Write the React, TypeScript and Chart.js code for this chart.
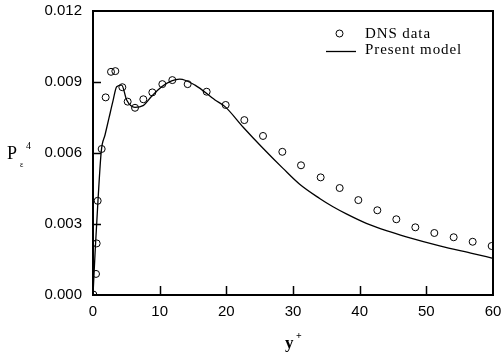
import React, { useEffect, useRef } from "react";
import { Chart, registerables } from "chart.js";
Chart.register(...registerables);

const dnsX = [0.05, 0.45, 0.55, 0.7, 1.3, 1.9, 2.7, 3.35, 4.4, 5.2, 6.3, 7.55, 8.9, 10.4, 11.9, 14.2, 17.05, 19.9, 22.7, 25.5, 28.4, 31.2, 34.15, 37.0, 39.8, 42.65, 45.5, 48.35, 51.2, 54.1, 56.95, 59.8];
const dnsY = [0.00002, 0.00089, 0.00218, 0.00398, 0.00617, 0.00835, 0.00943, 0.00946, 0.00878, 0.00817, 0.00791, 0.00827, 0.00856, 0.00891, 0.00908, 0.00891, 0.00859, 0.00803, 0.00739, 0.00672, 0.00605, 0.00548, 0.00497, 0.00452, 0.00401, 0.00358, 0.0032, 0.00286, 0.00262, 0.00244, 0.00225, 0.00207];

const modelX = [0, 0.35, 0.75, 1.25, 1.8, 2.4, 3.0, 3.55, 4.3, 5.05, 6.3, 7.5, 8.8, 10.3, 11.8, 13.0, 15.3, 18.3, 19.8, 22.5, 25.5, 28.5, 31, 34, 36, 38, 41, 44, 47, 52, 57, 60];
const modelY = [0, 0.002, 0.004, 0.0061, 0.00676, 0.00748, 0.0082, 0.0088, 0.00887, 0.00824, 0.00793, 0.008, 0.0084, 0.0088, 0.00905, 0.00912, 0.00887, 0.00824, 0.00796, 0.0071, 0.0062, 0.00535, 0.00468, 0.00408, 0.00373, 0.00343, 0.00303, 0.00272, 0.00246, 0.00208, 0.00175, 0.00155];

const xTicks = [0, 10, 20, 30, 40, 50, 60];
const yTicks = [0, 0.003, 0.006, 0.009, 0.012];
const legendLabels = ["DNS data", "Present model"];

const framePlugin = {
  id: "frame",
  afterDraw(chart: any) {
    const { ctx, chartArea } = chart;
    const { left, right, top, bottom } = chartArea;
    const xs = chart.scales.x;
    const ys = chart.scales.y;
    ctx.save();
    ctx.strokeStyle = "#000";
    ctx.lineWidth = 2;
    ctx.strokeRect(left, top, right - left, bottom - top);
    ctx.lineWidth = 1.5;
    ctx.beginPath();
    xTicks.slice(1, -1).forEach((v) => {
      const px = Math.round(xs.getPixelForValue(v)) + 0.5;
      ctx.moveTo(px, bottom);
      ctx.lineTo(px, bottom - 9);
    });
    yTicks.slice(1, -1).forEach((v) => {
      const py = Math.round(ys.getPixelForValue(v)) + 0.5;
      ctx.moveTo(left, py);
      ctx.lineTo(left + 8, py);
    });
    ctx.stroke();

    // legend
    ctx.fillStyle = "#000";
    ctx.lineWidth = 1;
    ctx.beginPath();
    ctx.arc(339.5, 33.5, 3.5, 0, Math.PI * 2);
    ctx.stroke();
    ctx.lineWidth = 1.3;
    ctx.beginPath();
    ctx.moveTo(326, 51.5);
    ctx.lineTo(356, 51.5);
    ctx.stroke();
    ctx.font = "15px 'Liberation Serif'";
    (ctx as any).letterSpacing = "0.9px";
    ctx.textBaseline = "alphabetic";
    ctx.textAlign = "left";
    ctx.fillText(legendLabels[0], 365, 38);
    ctx.fillText(legendLabels[1], 365, 53.5);
    (ctx as any).letterSpacing = "0px";

    // y title
    ctx.font = "18px 'Liberation Serif'";
    ctx.fillText("P", 7, 159);
    ctx.font = "8px 'Liberation Serif'";
    ctx.fillText("ε", 20, 167);
    ctx.font = "10px 'Liberation Serif'";
    ctx.fillText("4", 26, 149);

    // x title
    ctx.font = "bold 17px 'Liberation Serif'";
    ctx.fillText("y", 285, 348);
    ctx.font = "bold 10px 'Liberation Serif'";
    ctx.fillText("+", 296, 339);
    ctx.restore();
  },
};

export default function App() {
  const ref = useRef<HTMLCanvasElement>(null);
  useEffect(() => {
    if (!ref.current) return;
    const chart = new Chart(ref.current, {
      type: "scatter",
      data: {
        datasets: [
          {
            label: legendLabels[1],
            data: modelX.map((x, i) => ({ x, y: modelY[i] })),
            showLine: true,
            pointRadius: 0,
            borderColor: "#000",
            borderWidth: 1.3,
            cubicInterpolationMode: "monotone",
          } as any,
          {
            label: legendLabels[0],
            data: dnsX.map((x, i) => ({ x, y: dnsY[i] })),
            showLine: false,
            pointRadius: 3.5,
            pointStyle: "circle",
            borderColor: "#000",
            backgroundColor: "rgba(0,0,0,0)",
            borderWidth: 1,
          },
        ],
      },
      options: {
        responsive: false,
        animation: false,
        devicePixelRatio: 1,
        layout: { padding: { top: 11, right: 8, left: 0, bottom: 0 } },
        plugins: { legend: { display: false }, tooltip: { enabled: false } },
        scales: {
          x: {
            type: "linear",
            min: 0,
            max: 60,
            afterBuildTicks: (s: any) => {
              s.ticks = xTicks.map((v) => ({ value: v }));
            },
            ticks: {
              color: "#000",
              font: { family: "'Liberation Sans'", size: 15 },
              padding: 8,
              maxRotation: 0,
              autoSkip: false,
            },
            grid: { display: false, drawTicks: false },
            border: { display: false },
            afterFit: (s: any) => {
              s.height = 63;
              s.paddingLeft = 0;
              s.paddingRight = 0;
            },
          },
          y: {
            type: "linear",
            min: 0,
            max: 0.012,
            afterBuildTicks: (s: any) => {
              s.ticks = yTicks.map((v) => ({ value: v }));
            },
            ticks: {
              color: "#000",
              font: { family: "'Liberation Sans'", size: 15 },
              padding: 11,
              callback: (v: any) => Number(v).toFixed(3),
            },
            grid: { display: false, drawTicks: false },
            border: { display: false },
            afterFit: (s: any) => {
              s.width = 93;
              s.paddingTop = 0;
              s.paddingBottom = 0;
            },
          },
        },
      },
      plugins: [framePlugin],
    });
    return () => chart.destroy();
  }, []);
  return (
    <div style={{ position: "fixed", left: 0, top: 0, width: 501, height: 358, background: "#fff" }}>
      <canvas ref={ref} width={501} height={358} />
    </div>
  );
}
